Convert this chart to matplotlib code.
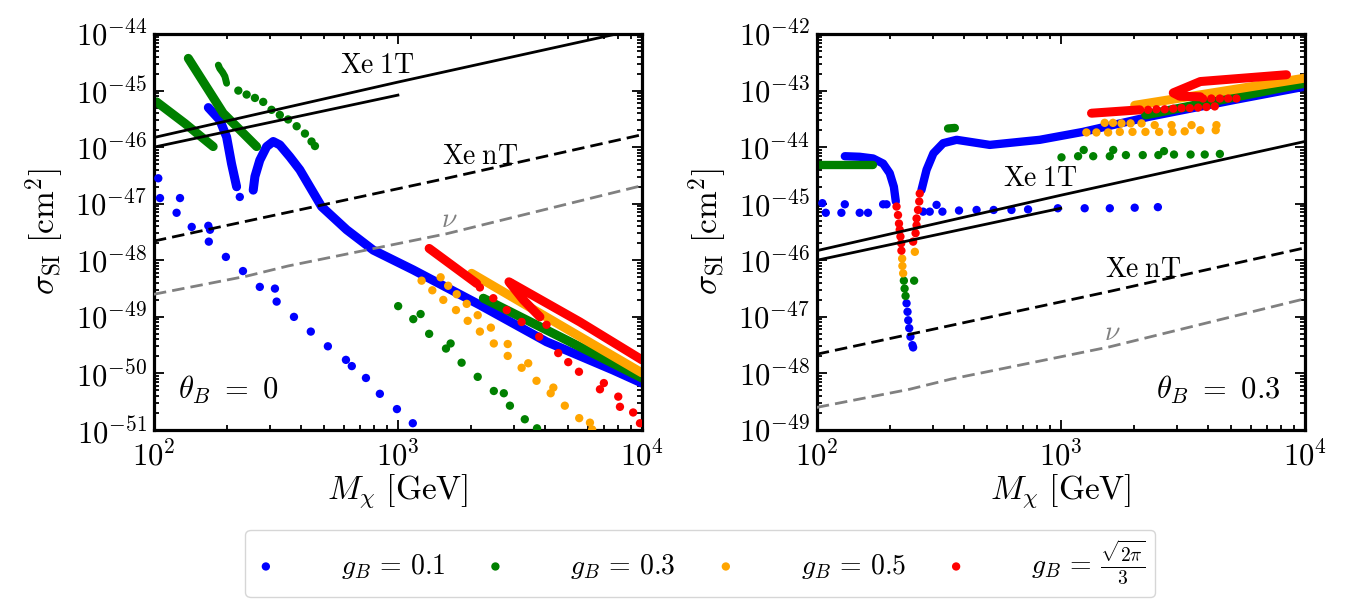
import numpy as np
import matplotlib.pyplot as plt
from matplotlib.ticker import LogLocator, NullFormatter

plt.rcParams['mathtext.fontset'] = 'cm'
plt.rcParams['font.family'] = 'serif'
plt.rcParams['font.serif'] = ['cmr10', 'DejaVu Serif']
plt.rcParams['axes.formatter.use_mathtext'] = True

# all values are log10(M / GeV) and log10(sigma / cm^2)
# detector limits (same in both panels)
xe1t_a_lm = [2.0, 3.0, 4.0]
xe1t_a_ls = [-45.83, -44.85, -43.90]
xe1t_b_lm = [2.0, 3.0]
xe1t_b_ls = [-46.0, -45.08]
xent_lm = [2.0, 3.2, 4.0]
xent_ls = [-47.66, -46.55, -45.78]
nu_lm = [2.0, 2.38, 2.55, 3.2, 4.0]
nu_ls = [-48.60, -48.28, -48.10, -47.53, -46.68]

# ---- theta_B = 0 ----
l_blue_dots_lm = [2.018, 2.025, 2.107, 2.093, 2.155, 2.223, 2.230, 2.225, 2.295, 2.352, 2.365,
                  2.434, 2.496, 2.503, 2.574, 2.643, 2.713, 2.787, 2.811, 2.869, 2.926, 2.996, 3.061]
l_blue_dots_ls = [-46.55, -46.90, -46.90, -47.16, -47.41, -47.39, -47.46, -47.67, -47.94, -46.88, -48.19,
                  -48.47, -48.50, -48.73, -49.00, -49.26, -49.52, -49.76, -49.87, -50.08, -50.36, -50.63, -50.88]
l_blue_c1_lm = [2.223, 2.270, 2.298, 2.318, 2.339]
l_blue_c1_ls = [-45.30, -45.52, -45.82, -46.29, -46.70]
l_blue_c2_lm = [2.407, 2.414, 2.434, 2.462, 2.489, 2.516, 2.557, 2.598, 2.687, 2.790, 2.899, 3.063,
                3.336, 3.609, 3.882, 4.0]
l_blue_c2_ls = [-46.76, -46.52, -46.23, -45.99, -45.90, -45.96, -46.17, -46.40, -47.05, -47.46, -47.82, -48.17,
                -48.79, -49.44, -49.94, -50.17]

l_green_c1_lm = [2.011, 2.127, 2.243]
l_green_c1_ls = [-45.20, -45.58, -45.99]
l_green_c2_lm = [2.141, 2.284, 2.421]
l_green_c2_ls = [-44.43, -45.40, -45.99]
l_green_c3_lm = [2.264, 2.270, 2.282, 2.291, 2.298]
l_green_c3_ls = [-44.55, -44.61, -44.68, -44.75, -44.87]
l_green_c4_lm = [3.350, 4.0]
l_green_c4_ls = [-48.67, -50.08]
l_green_dots_lm = [2.346, 2.380, 2.414, 2.448, 2.482, 2.516, 2.550, 2.585, 2.619, 2.646, 2.660,
                   3.001, 3.063, 3.093, 3.128, 3.197, 3.216, 3.261, 3.327, 3.393, 3.434, 3.459, 3.520, 3.570]
l_green_dots_ls = [-45.00, -45.07, -45.13, -45.20, -45.34, -45.43, -45.51, -45.63, -45.76, -45.90, -45.98,
                   -48.81, -49.04, -48.95, -49.30, -49.56, -49.47, -49.81, -50.06, -50.31, -50.35, -50.57, -50.81, -50.97]

l_orange_c_lm = [3.302, 4.0]
l_orange_c_ls = [-48.23, -49.99]
l_orange_dots_lm = [3.097, 3.141, 3.175, 3.186, 3.206, 3.238, 3.241, 3.282, 3.286, 3.327, 3.336, 3.381,
                    3.393, 3.450, 3.450, 3.507, 3.534, 3.568, 3.637, 3.626, 3.684, 3.743, 3.787, 3.796]
l_orange_dots_ls = [-48.36, -48.53, -48.30, -48.70, -48.45, -48.88, -48.60, -48.77, -49.07, -48.97, -49.26, -49.19,
                    -49.47, -49.48, -49.69, -49.90, -49.82, -50.13, -50.25, -50.35, -50.57, -50.79, -50.87, -50.99]

l_red_c1_lm = [3.128, 3.323]
l_red_c1_ls = [-47.79, -48.41]
l_red_loop_lm = [3.582, 3.514, 3.455, 3.746, 4.0]
l_red_loop_ls = [-49.00, -48.70, -48.38, -49.09, -49.76]
l_red_dots_lm = [3.336, 3.391, 3.446, 3.507, 3.579, 3.657, 3.742, 3.828, 3.910, 3.992,
                 3.609, 3.698, 3.844, 3.903, 3.964]
l_red_dots_ls = [-48.48, -48.67, -48.88, -49.09, -49.35, -49.64, -49.97, -50.28, -50.59, -50.88,
                 -49.14, -49.80, -50.17, -50.41, -50.69]

# ---- theta_B = 0.3 ----
r_blue_c1_lm = [2.115, 2.176, 2.231, 2.272, 2.299, 2.316, 2.324]
r_blue_c1_ls = [-44.16, -44.17, -44.20, -44.29, -44.46, -44.70, -44.96]
r_blue_c2_lm = [2.429, 2.45, 2.478, 2.518, 2.573, 2.709, 2.914, 3.091, 3.365, 3.706, 4.0]
r_blue_c2_ls = [-44.76, -44.40, -44.11, -43.93, -43.87, -43.96, -43.87, -43.73, -43.46, -43.17, -42.93]
r_blue_dots_lm = [2.023, 2.037, 2.101, 2.115, 2.176, 2.210, 2.272, 2.286, 2.436, 2.463, 2.491, 2.515,
                  2.583, 2.655, 2.725, 2.798, 2.866, 2.988, 3.098, 3.201, 3.303, 3.398,
                  2.368, 2.372, 2.375, 2.379, 2.384, 2.392, 2.395]
r_blue_dots_ls = [-44.99, -45.16, -45.16, -45.01, -45.16, -45.16, -45.01, -45.01, -45.14, -45.14, -45.02, -45.14,
                  -45.12, -45.11, -45.11, -45.11, -45.10, -45.08, -45.08, -45.08, -45.07, -45.06,
                  -46.76, -46.91, -47.06, -47.20, -47.35, -47.50, -47.54]

r_green_c1_lm = [2.005, 2.231]
r_green_c1_ls = [-44.32, -44.32]
r_green_c2_lm = [2.538, 2.566]
r_green_c2_ls = [-43.67, -43.66]
r_green_c3_lm = [3.348, 4.0]
r_green_c3_ls = [-43.43, -42.87]
r_green_dots_lm = [2.357, 2.360, 2.364, 2.399,
                   3.003, 3.071, 3.094, 3.133, 3.201, 3.215, 3.267, 3.336, 3.400, 3.423, 3.464, 3.532, 3.590, 3.652]
r_green_dots_ls = [-46.36, -46.50, -46.63, -46.36,
                   -44.18, -44.16, -44.05, -44.16, -44.16, -44.05, -44.14, -44.14, -44.14, -44.07, -44.13, -44.13,
                   -44.13, -44.12]

r_orange_c_lm = [3.303, 4.0]
r_orange_c_ls = [-43.26, -42.78]
r_orange_dots_lm = [2.350, 2.351, 2.354, 2.402,
                    3.180, 3.214, 3.249, 3.286, 3.331, 3.385, 3.454, 3.536, 3.638,
                    3.105, 3.146, 3.194, 3.242, 3.294, 3.347, 3.403, 3.458, 3.508, 3.572, 3.635]
r_orange_dots_ls = [-45.97, -46.10, -46.23, -45.85,
                    -43.57, -43.57, -43.58, -43.58, -43.58, -43.61, -43.61, -43.61, -43.61,
                    -43.74, -43.74, -43.74, -43.73, -43.73, -43.73, -43.73, -43.73, -43.72, -43.70, -43.70]

r_red_c1_lm = [3.126, 3.324]
r_red_c1_ls = [-43.40, -43.34]
r_red_loop_lm = [3.572, 3.488, 3.461, 3.572, 3.925]
r_red_loop_ls = [-43.11, -43.10, -43.04, -42.84, -42.72]
r_red_dots_lm = [2.327, 2.333, 2.337, 2.340, 2.343, 2.346, 2.347, 2.422, 2.420, 2.415, 2.409, 2.409, 2.405, 2.395,
                 3.358, 3.392, 3.426, 3.461, 3.495, 3.529, 3.563, 3.597, 3.631,
                 3.583, 3.617, 3.652, 3.686, 3.720]
r_red_dots_ls = [-45.05, -45.20, -45.35, -45.46, -45.58, -45.70, -45.83, -44.82, -44.96, -45.11, -45.26, -45.38,
                 -45.52, -45.67,
                 -43.34, -43.33, -43.33, -43.32, -43.31, -43.31, -43.30, -43.29, -43.28,
                 -43.14, -43.14, -43.14, -43.14, -43.14]

colors = {'0.1': '#0000ff', '0.3': 'green', '0.5': 'orange', 'r': '#ff0000'}
labels = [r'$g_B\,=\,0.1$', r'$g_B\,=\,0.3$', r'$g_B\,=\,0.5$', r'$g_B\,=\,\frac{\sqrt{2\pi}}{3}$']


def p(lm, ls):
    return 10.0 ** np.array(lm), 10.0 ** np.array(ls)


def curve(ax, lm, ls, c, lw=6.5):
    x, y = p(lm, ls)
    ax.plot(x, y, color=c, lw=lw, solid_capstyle='round', solid_joinstyle='round', zorder=2)


def dots(ax, lm, ls, c, s=36):
    x, y = p(lm, ls)
    ax.scatter(x, y, s=s, color=c, edgecolors='none', zorder=3)


def limits(ax):
    x, y = p(xe1t_a_lm, xe1t_a_ls)
    ax.plot(x, y, 'k-', lw=2.0, zorder=4)
    x, y = p(xe1t_b_lm, xe1t_b_ls)
    ax.plot(x, y, 'k-', lw=2.0, zorder=4)
    x, y = p(xent_lm, xent_ls)
    ax.plot(x, y, '--', color='k', lw=2.0, dashes=(4.5, 2.2), zorder=4)
    x, y = p(nu_lm, nu_ls)
    ax.plot(x, y, '--', color='gray', lw=2.0, dashes=(4.5, 2.2), zorder=4)
    ax.text(10 ** 2.915, 10 ** -44.56, r'$\mathrm{Xe\;1T}$', fontsize=20, ha='center', va='center')
    ax.text(10 ** 3.336, 10 ** -46.17, r'$\mathrm{Xe\;nT}$', fontsize=20, ha='center', va='center')
    ax.text(10 ** 3.21, 10 ** -47.29, r'$\nu$', fontsize=20, ha='center', va='center', color='gray')


def style(ax, ymin, ymax):
    ax.set_xscale('log')
    ax.set_yscale('log')
    ax.set_xlim(1e2, 1e4)
    ax.set_ylim(10.0 ** ymin, 10.0 ** ymax)
    ax.yaxis.set_major_locator(LogLocator(base=10, numticks=20))
    ax.yaxis.set_minor_locator(LogLocator(base=10, subs=np.arange(2, 10), numticks=200))
    ax.yaxis.set_minor_formatter(NullFormatter())
    ax.xaxis.set_minor_locator(LogLocator(base=10, subs=np.arange(2, 10), numticks=200))
    ax.xaxis.set_minor_formatter(NullFormatter())
    ax.tick_params(which='both', direction='in', top=True, right=True, labelsize=22, width=1.3)
    ax.tick_params(which='major', length=7, pad=5)
    ax.tick_params(which='minor', length=3.5)
    ax.tick_params(axis='x', which='major', pad=8)
    for sp in ax.spines.values():
        sp.set_linewidth(2.3)
    ax.set_xlabel(r'$M_\chi\ [\mathrm{GeV}]$', fontsize=24, labelpad=0)
    ax.set_ylabel(r'$\sigma_{\rm SI}\ [\mathrm{cm}^2]$', fontsize=24, labelpad=6)


fig = plt.figure(figsize=(13.5, 6), dpi=100)
ax1 = fig.add_axes([0.114, 0.2833, 0.3615, 0.66])
ax2 = fig.add_axes([0.605, 0.2833, 0.3615, 0.66])

# left panel
curve(ax1, l_blue_c1_lm, l_blue_c1_ls, colors['0.1'])
curve(ax1, l_blue_c2_lm, l_blue_c2_ls, colors['0.1'])
dots(ax1, l_blue_dots_lm, l_blue_dots_ls, colors['0.1'])
curve(ax1, l_green_c1_lm, l_green_c1_ls, colors['0.3'])
curve(ax1, l_green_c2_lm, l_green_c2_ls, colors['0.3'])
curve(ax1, l_green_c3_lm, l_green_c3_ls, colors['0.3'], lw=5)
curve(ax1, l_green_c4_lm, l_green_c4_ls, colors['0.3'])
dots(ax1, l_green_dots_lm, l_green_dots_ls, colors['0.3'])
curve(ax1, l_orange_c_lm, l_orange_c_ls, colors['0.5'])
dots(ax1, l_orange_dots_lm, l_orange_dots_ls, colors['0.5'])
curve(ax1, l_red_c1_lm, l_red_c1_ls, colors['r'])
curve(ax1, l_red_loop_lm, l_red_loop_ls, colors['r'])
dots(ax1, l_red_dots_lm, l_red_dots_ls, colors['r'])
limits(ax1)
style(ax1, -51, -44)
ax1.text(0.05, 0.06, r'$\theta_B\ =\ 0$', transform=ax1.transAxes, fontsize=22, ha='left', va='bottom')

# right panel
curve(ax2, r_blue_c1_lm, r_blue_c1_ls, colors['0.1'], lw=6)
curve(ax2, r_blue_c2_lm, r_blue_c2_ls, colors['0.1'], lw=6)
dots(ax2, r_blue_dots_lm, r_blue_dots_ls, colors['0.1'])
curve(ax2, r_green_c1_lm, r_green_c1_ls, colors['0.3'], lw=6)
curve(ax2, r_green_c2_lm, r_green_c2_ls, colors['0.3'], lw=6)
curve(ax2, r_green_c3_lm, r_green_c3_ls, colors['0.3'])
dots(ax2, r_green_dots_lm, r_green_dots_ls, colors['0.3'])
curve(ax2, r_orange_c_lm, r_orange_c_ls, colors['0.5'])
dots(ax2, r_orange_dots_lm, r_orange_dots_ls, colors['0.5'])
curve(ax2, r_red_c1_lm, r_red_c1_ls, colors['r'])
curve(ax2, r_red_loop_lm, r_red_loop_ls, colors['r'])
dots(ax2, r_red_dots_lm, r_red_dots_ls, colors['r'])
limits(ax2)
style(ax2, -49, -42)
ax2.text(0.95, 0.06, r'$\theta_B\ =\ 0.3$', transform=ax2.transAxes, fontsize=22, ha='right', va='bottom')

# legend
handles = [ax1.scatter([], [], s=36, color=c, edgecolors='none')
           for c in [colors['0.1'], colors['0.3'], colors['0.5'], colors['r']]]
fig.legend(handles, labels, loc='center left', bbox_to_anchor=(0.1815, 0.061), borderaxespad=0,
           ncol=4, fontsize=20, frameon=True, fancybox=True, edgecolor='#cccccc',
           handlelength=0.8, handletextpad=2.3, columnspacing=1.4, borderpad=0.35, scatterpoints=1)

fig.savefig('out.png', dpi=100)
